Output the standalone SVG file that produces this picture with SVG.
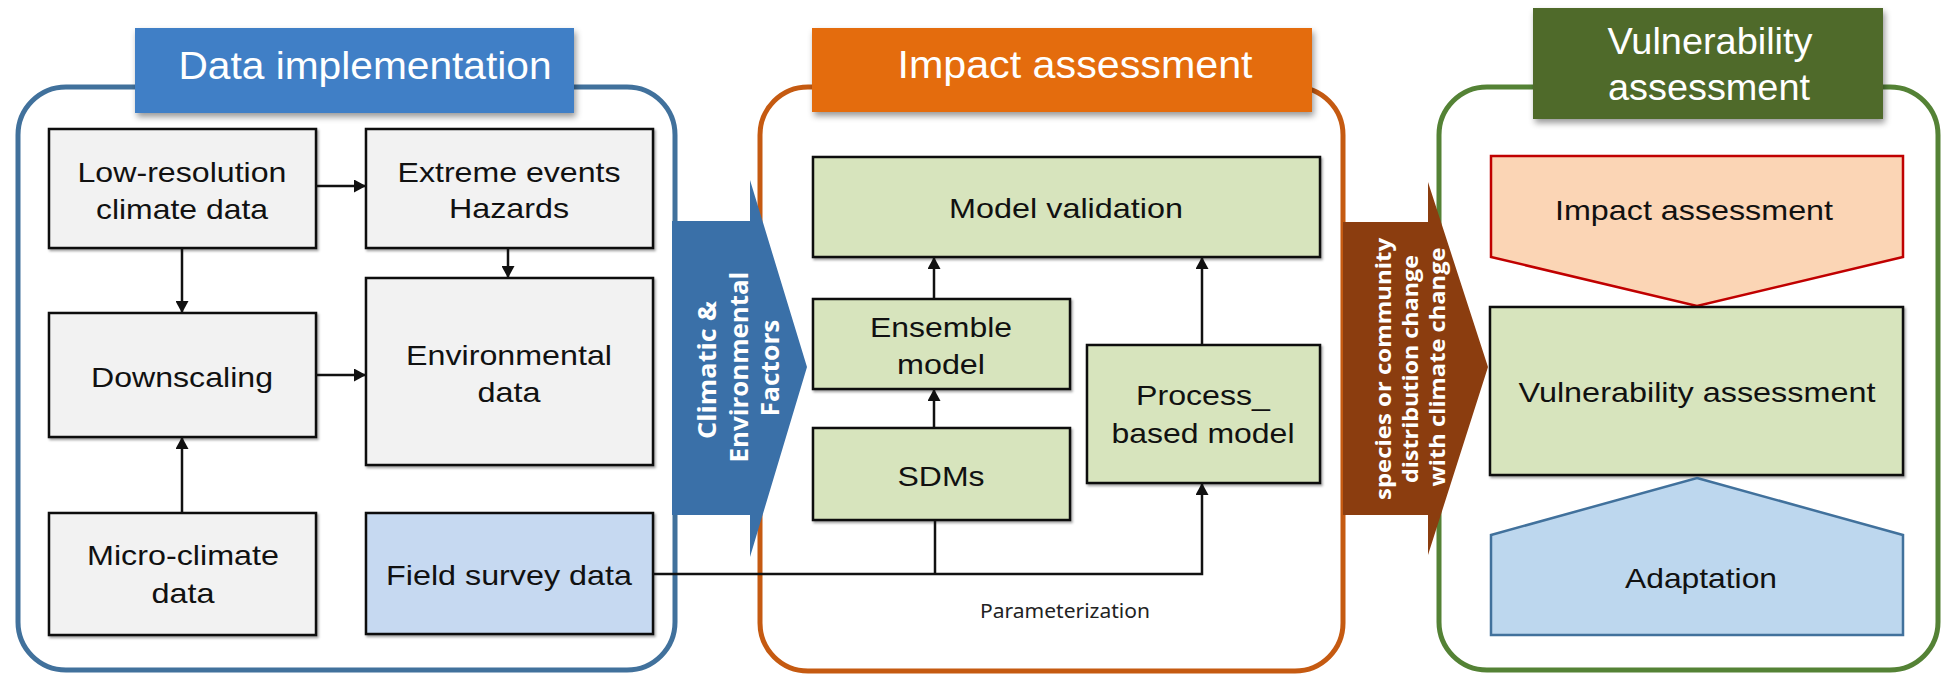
<svg xmlns="http://www.w3.org/2000/svg" width="1942" height="677" viewBox="0 0 1942 677">
<style>
.t{font-family:"Liberation Sans",Arial,sans-serif;font-size:28px;fill:#111;text-anchor:middle}
.bt{font-family:"Liberation Sans",Arial,sans-serif;fill:#fff;text-anchor:middle}
.vt{font-family:"Open Sans","DejaVu Sans",sans-serif;font-weight:bold;fill:#fff;text-anchor:middle}
.gray{fill:#f2f2f2;stroke:#111;stroke-width:2.5}
.grn{fill:#d7e4bd;stroke:#111;stroke-width:2.5}
.blu{fill:#c6d9f1;stroke:#111;stroke-width:2.5}
.cn{fill:none;stroke:#111;stroke-width:2.5}
</style>
<defs>
<filter id="sh" x="-10%" y="-10%" width="130%" height="140%"><feDropShadow dx="2" dy="4" stdDeviation="3" flood-color="#000" flood-opacity="0.4"/></filter>
<filter id="sh2" x="-5%" y="-5%" width="115%" height="115%"><feDropShadow dx="1.5" dy="2" stdDeviation="1.2" flood-color="#000" flood-opacity="0.35"/></filter>
<marker id="ah" markerUnits="userSpaceOnUse" markerWidth="13" markerHeight="13" refX="12" refY="6.5" orient="auto"><path d="M0,0 L12,6.5 L0,13 z" fill="#111"/></marker>
</defs>

<g id="containers">
<rect id="box-data" x="18" y="87" width="657" height="583" rx="48" fill="#fff" stroke="#41719c" stroke-width="5"/>
<rect id="box-impact" x="760" y="87" width="583" height="584" rx="48" fill="#fff" stroke="#c55a11" stroke-width="5"/>
<rect id="box-vuln" x="1439" y="87" width="499" height="583" rx="48" fill="#fff" stroke="#548235" stroke-width="5"/>
</g>

<g id="banners">
<g id="banner-data">
<rect x="135" y="28" width="439" height="85" fill="#3f7fc6" filter="url(#sh)"/>
<text class="bt" x="365" y="79" font-size="38" textLength="373" lengthAdjust="spacingAndGlyphs">Data implementation</text>
</g>
<g id="banner-impact">
<rect x="812" y="28" width="500" height="84" fill="#e46c0a" filter="url(#sh)"/>
<text class="bt" x="1075" y="78" font-size="38" textLength="355" lengthAdjust="spacingAndGlyphs">Impact assessment</text>
</g>
<g id="banner-vuln">
<rect x="1533" y="8" width="350" height="111" fill="#4f6a2b" filter="url(#sh)"/>
<text class="bt" x="1710" y="54" font-size="36" textLength="205" lengthAdjust="spacingAndGlyphs">Vulnerability</text>
<text class="bt" x="1709" y="100" font-size="36" textLength="202" lengthAdjust="spacingAndGlyphs">assessment</text>
</g>
</g>

<g id="arrow-climatic">
<path d="M672,221 H750 V180 L807,367 L750,557 V515 H672 z" fill="#3a70a8"/>
<text class="vt" font-size="25" transform="translate(716,370) rotate(-90)" textLength="138" lengthAdjust="spacingAndGlyphs">Climatic &amp;</text>
<text class="vt" font-size="25" transform="translate(748,367) rotate(-90)" textLength="191" lengthAdjust="spacingAndGlyphs">Environmental</text>
<text class="vt" font-size="25" transform="translate(779,368) rotate(-90)" textLength="97" lengthAdjust="spacingAndGlyphs">Factors</text>
</g>

<g id="arrow-species">
<path d="M1343,222 H1428 V182 L1488,367 L1428,555 V515 H1343 z" fill="#8b3d0f"/>
<text class="vt" font-size="21" transform="translate(1391,369) rotate(-90)" textLength="262" lengthAdjust="spacingAndGlyphs">species or community</text>
<text class="vt" font-size="21" transform="translate(1418,369) rotate(-90)" textLength="228" lengthAdjust="spacingAndGlyphs">distribution change</text>
<text class="vt" font-size="21" transform="translate(1445,367) rotate(-90)" textLength="239" lengthAdjust="spacingAndGlyphs">with climate change</text>
</g>

<g id="n-lowres"><rect class="gray" x="49" y="129" width="267" height="119" filter="url(#sh2)"/>
<text class="t" x="182" y="182" textLength="209" lengthAdjust="spacingAndGlyphs">Low-resolution</text>
<text class="t" x="182" y="219" textLength="172" lengthAdjust="spacingAndGlyphs">climate data</text></g>
<g id="n-extreme"><rect class="gray" x="366" y="129" width="287" height="119" filter="url(#sh2)"/>
<text class="t" x="509" y="182" textLength="223" lengthAdjust="spacingAndGlyphs">Extreme events</text>
<text class="t" x="509" y="218" textLength="120" lengthAdjust="spacingAndGlyphs">Hazards</text></g>
<g id="n-downscaling"><rect class="gray" x="49" y="313" width="267" height="124" filter="url(#sh2)"/>
<text class="t" x="182" y="387" textLength="182" lengthAdjust="spacingAndGlyphs">Downscaling</text></g>
<g id="n-environmental"><rect class="gray" x="366" y="278" width="287" height="187" filter="url(#sh2)"/>
<text class="t" x="509" y="365" textLength="206" lengthAdjust="spacingAndGlyphs">Environmental</text>
<text class="t" x="509" y="402" textLength="63" lengthAdjust="spacingAndGlyphs">data</text></g>
<g id="n-micro"><rect class="gray" x="49" y="513" width="267" height="122" filter="url(#sh2)"/>
<text class="t" x="183" y="565" textLength="192" lengthAdjust="spacingAndGlyphs">Micro-climate</text>
<text class="t" x="183" y="603" textLength="63" lengthAdjust="spacingAndGlyphs">data</text></g>
<g id="n-field"><rect class="blu" x="366" y="513" width="287" height="121" filter="url(#sh2)"/>
<text class="t" x="509" y="585" textLength="246" lengthAdjust="spacingAndGlyphs">Field survey data</text></g>

<g id="n-validation"><rect class="grn" x="813" y="157" width="507" height="100" filter="url(#sh2)"/>
<text class="t" x="1066" y="218" textLength="234" lengthAdjust="spacingAndGlyphs">Model validation</text></g>
<g id="n-ensemble"><rect class="grn" x="813" y="299" width="257" height="90" filter="url(#sh2)"/>
<text class="t" x="941" y="337" textLength="142" lengthAdjust="spacingAndGlyphs">Ensemble</text>
<text class="t" x="941" y="374" textLength="88" lengthAdjust="spacingAndGlyphs">model</text></g>
<g id="n-sdms"><rect class="grn" x="813" y="428" width="257" height="92" filter="url(#sh2)"/>
<text class="t" x="941" y="486" textLength="87" lengthAdjust="spacingAndGlyphs">SDMs</text></g>
<g id="n-process"><rect class="grn" x="1087" y="345" width="233" height="138" filter="url(#sh2)"/>
<text class="t" x="1203" y="405" textLength="134" lengthAdjust="spacingAndGlyphs">Process_</text>
<text class="t" x="1203" y="443" textLength="183" lengthAdjust="spacingAndGlyphs">based model</text></g>
<g id="n-param">
<text x="1065" y="618" font-family="'Noto Sans','Liberation Sans',sans-serif" font-size="20" fill="#222" text-anchor="middle" textLength="170" lengthAdjust="spacingAndGlyphs">Parameterization</text></g>

<g id="n-impact2"><path d="M1491,156 H1903 V257 L1697,306 L1491,257 z" fill="#fbd5b5" stroke="#c00000" stroke-width="2.5"/>
<text class="t" x="1694" y="220" font-size="29" textLength="278" lengthAdjust="spacingAndGlyphs">Impact assessment</text></g>
<g id="n-vulnerability"><rect class="grn" x="1490" y="307" width="413" height="168" filter="url(#sh2)"/>
<text class="t" x="1697" y="402" textLength="357" lengthAdjust="spacingAndGlyphs">Vulnerability assessment</text></g>
<g id="n-adaptation"><path d="M1697,478 L1903,535 V635 H1491 V535 z" fill="#bdd7ee" stroke="#41719c" stroke-width="2.5"/>
<text class="t" x="1701" y="588" textLength="152" lengthAdjust="spacingAndGlyphs">Adaptation</text></g>

<g id="connectors">
<path class="cn" d="M316,186 H366" marker-end="url(#ah)"/>
<path class="cn" d="M508,248 V278" marker-end="url(#ah)"/>
<path class="cn" d="M182,248 V313" marker-end="url(#ah)"/>
<path class="cn" d="M316,375 H366" marker-end="url(#ah)"/>
<path class="cn" d="M182,513 V437" marker-end="url(#ah)"/>
<path class="cn" d="M934,299 V257" marker-end="url(#ah)"/>
<path class="cn" d="M934,428 V389" marker-end="url(#ah)"/>
<path class="cn" d="M1202,345 V257" marker-end="url(#ah)"/>
<path class="cn" d="M653,574 H1202 V483" marker-end="url(#ah)"/>
<path class="cn" d="M935,574 V521"/>
</g>
</svg>
